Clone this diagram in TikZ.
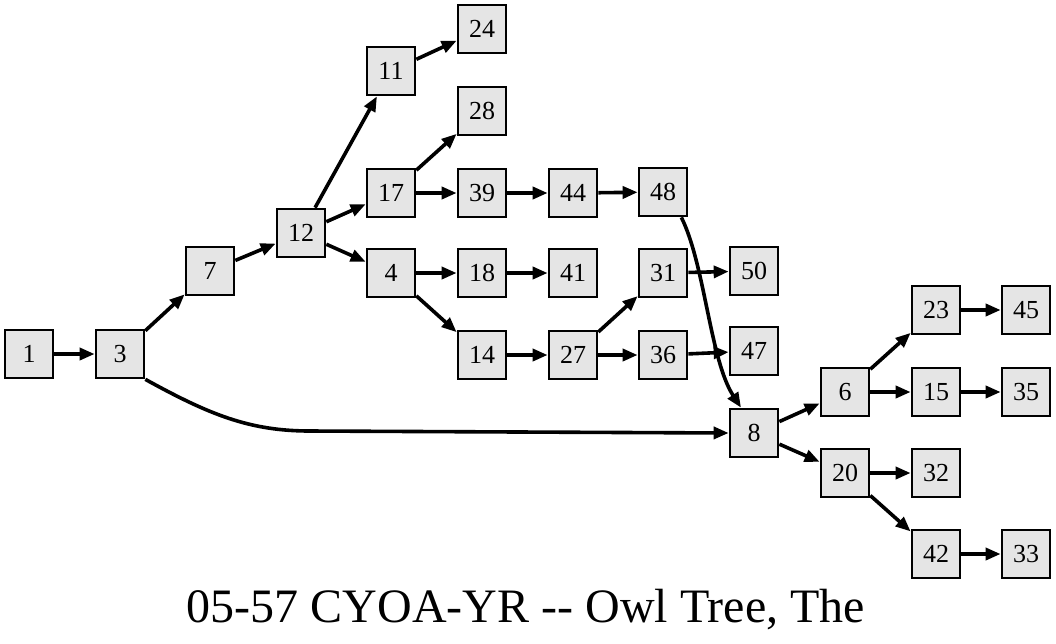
\documentclass[tikz,border=0pt]{standalone}
\usepackage{fontspec}
\setmainfont{Liberation Serif}
\usetikzlibrary{arrows.meta}
\definecolor{boxfill}{RGB}{229,229,229}
\newcommand\nodefontsize{\fontsize{26}{26}\selectfont}
\tikzset{
  pbox/.style={draw=black, fill=boxfill, line width=2.7pt, minimum width=48pt, minimum height=48pt, inner sep=0pt, font=\nodefontsize},
  edge/.style={line width=3.6pt, -{Triangle[length=15pt,width=12pt]}},
}
\begin{document}
\begin{tikzpicture}[x=1pt,y=-1pt]
\useasboundingbox (0,0) rectangle (1056,643);
\node[pbox] (n1) at (29,354) {1};
\node[pbox] (n3) at (120,354) {3};
\node[pbox] (n7) at (210,271) {7};
\node[pbox] (n12) at (301,233) {12};
\node[pbox] (n11) at (391,71) {11};
\node[pbox] (n24) at (482,29) {24};
\node[pbox] (n17) at (391,193) {17};
\node[pbox] (n28) at (482,111) {28};
\node[pbox] (n39) at (482,193) {39};
\node[pbox] (n44) at (573,193) {44};
\node[pbox] (n48) at (663,192) {48};
\node[pbox] (n4) at (391,273) {4};
\node[pbox] (n18) at (482,273) {18};
\node[pbox] (n41) at (573,273) {41};
\node[pbox] (n14) at (482,355) {14};
\node[pbox] (n27) at (573,355) {27};
\node[pbox] (n31) at (663,273) {31};
\node[pbox] (n50) at (754,271) {50};
\node[pbox] (n36) at (663,355) {36};
\node[pbox] (n47) at (754,351) {47};
\node[pbox] (n8) at (754,433) {8};
\node[pbox] (n6) at (845,392) {6};
\node[pbox] (n23) at (936,310) {23};
\node[pbox] (n45) at (1026,310) {45};
\node[pbox] (n15) at (936,392) {15};
\node[pbox] (n35) at (1026,392) {35};
\node[pbox] (n20) at (845,473) {20};
\node[pbox] (n32) at (936,473) {32};
\node[pbox] (n42) at (936,554) {42};
\node[pbox] (n33) at (1026,554) {33};
\node[font=\fontsize{48}{48}\selectfont, anchor=base] (title) at (526,622) {05\mbox{-}57 CYOA\mbox{-}YR \mbox{-}\mbox{-} Owl Tree, The};
\draw[edge] (n1) -- (n3);
\draw[edge] (n3) -- (n7);
\draw[edge] (n7) -- (n12);
\draw[edge] (n12) -- (n11);
\draw[edge] (n12) -- (n17);
\draw[edge] (n12) -- (n4);
\draw[edge] (n11) -- (n24);
\draw[edge] (n17) -- (n28);
\draw[edge] (n17) -- (n39);
\draw[edge] (n39) -- (n44);
\draw[edge] (n44) -- (n48);
\draw[edge] (n4) -- (n18);
\draw[edge] (n4) -- (n14);
\draw[edge] (n18) -- (n41);
\draw[edge] (n14) -- (n27);
\draw[edge] (n27) -- (n31);
\draw[edge] (n27) -- (n36);
\draw[edge] (n31) -- (n50);
\draw[edge] (n36) -- (n47);
\draw[edge] (n3.south east) .. controls (210,415) and (250,431) .. (310,431) -- (n8.west);
\draw[edge] (n48.south east) ++(-7,0) .. controls (705,265) and (710,360) .. ([xshift=-13pt]n8.north);
\draw[edge] (n8) -- (n6);
\draw[edge] (n8) -- (n20);
\draw[edge] (n6) -- (n23);
\draw[edge] (n6) -- (n15);
\draw[edge] (n23) -- (n45);
\draw[edge] (n15) -- (n35);
\draw[edge] (n20) -- (n32);
\draw[edge] (n20) -- (n42);
\draw[edge] (n42) -- (n33);
\end{tikzpicture}
\end{document}
